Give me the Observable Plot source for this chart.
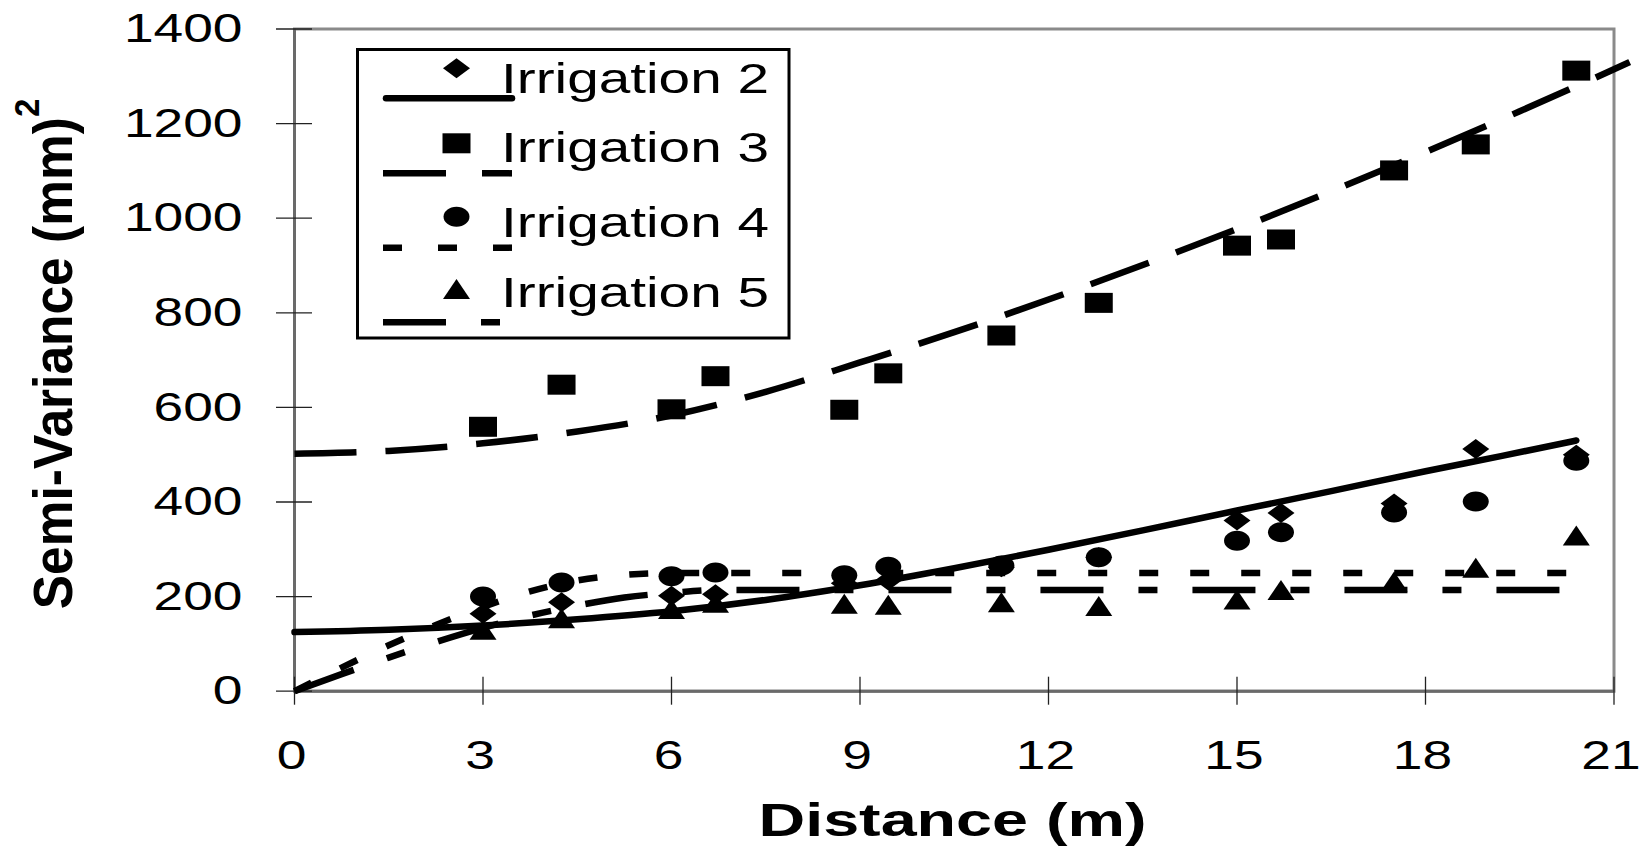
<!DOCTYPE html>
<html>
<head>
<meta charset="utf-8">
<script src="https://cdn.jsdelivr.net/npm/d3@7"></script>
<script src="https://cdn.jsdelivr.net/npm/@observablehq/plot@0.6"></script>
<style>
  html, body { margin: 0; padding: 0; background: #fff; overflow: hidden; }
  #chart svg { display: block; }
</style>
</head>
<body>
<div id="chart"></div>
<script>
// ---------- data ----------
const distances = [3, 4.25, 6, 6.7, 8.75, 9.45, 11.25, 12.8, 15, 15.7, 17.5, 18.8, 20.4];
const irr2 = [164, 188, 202, 205, 228, 234, 262, 283, 361, 377, 397, 512, 500];
const irr3 = [559, 648, 596, 666, 595, 672, 752, 821, 942, 955, 1101, 1156, 1312];
const irr4 = [200, 230, 243, 251, 245, 263, 266, 283, 318, 336, 378, 401, 487];
const irr5 = [130, 154, 174, 187, 185, 183, 188, 180, 194, 214, 232, 261, 329];

// fitted model curves
const fitX2 = [0, 1.5, 3, 4.5, 6, 7.5, 9, 10.5, 12, 13.5, 15, 16.5, 18, 19.2, 20.4];
const fitY2 = [125, 130, 139, 152, 169, 193, 224, 260, 299, 340, 382, 423, 465, 497, 530];
const fitX3 = [0, 1.5, 3, 4.5, 6, 7.5, 9, 10.5, 12, 13.5, 15, 16.5, 18, 19.5, 20.4, 21.25];
const fitY3 = [502, 508, 524, 549, 583, 633, 695, 759, 828, 901, 977, 1057, 1140, 1226, 1279, 1330];
const fitX4 = [0, 0.75, 1.5, 2.25, 3, 3.75, 4.5, 5.25, 6, 20.4];
const fitY4 = [0, 50, 97, 140, 178, 211, 234, 246, 250, 250];
const fitX5 = [0, 0.75, 1.5, 2.25, 3, 3.75, 4.5, 5.25, 6, 6.75, 20.4];
const fitY5 = [0, 36, 71, 104, 134, 160, 181, 198, 208, 214, 214];

const xTicks = [0, 3, 6, 9, 12, 15, 18, 21];
const yTicks = [0, 200, 400, 600, 800, 1000, 1200, 1400];
const seriesNames = ["Irrigation 2", "Irrigation 3", "Irrigation 4", "Irrigation 5"];
const xTitle = "Distance (m)";
const yTitle = "Semi-Variance (mm)";
const yTitleSup = "2";

// ---------- helpers ----------
const FONT = "'Liberation Sans', Arial, Helvetica, sans-serif";
const pts = (xs, ys) => xs.map((x, i) => ({x, y: ys[i]}));

// stretched (wide) marker shapes, as in the reference
function sym(kind, ratio) {
  return {
    draw(ctx, size) {
      const h = Math.sqrt(size / Math.PI), w = h * ratio;
      if (kind === "rect") {
        ctx.moveTo(-w, -h); ctx.lineTo(w, -h); ctx.lineTo(w, h); ctx.lineTo(-w, h); ctx.closePath();
      } else if (kind === "diamond") {
        ctx.moveTo(0, -h); ctx.lineTo(w, 0); ctx.lineTo(0, h); ctx.lineTo(-w, 0); ctx.closePath();
      } else if (kind === "triangle") {
        ctx.moveTo(0, -h); ctx.lineTo(w, h); ctx.lineTo(-w, h); ctx.closePath();
      } else {
        const k = 0.5523;
        ctx.moveTo(w, 0);
        ctx.bezierCurveTo(w, k * h, k * w, h, 0, h);
        ctx.bezierCurveTo(-k * w, h, -w, k * h, -w, 0);
        ctx.bezierCurveTo(-w, -k * h, -k * w, -h, 0, -h);
        ctx.bezierCurveTo(k * w, -h, w, -k * h, w, 0);
        ctx.closePath();
      }
    }
  };
}
const diamondSym = sym("diamond", 1.35);
const squareSym = sym("rect", 1.4);
const circleSym = sym("ellipse", 1.3);
const triangleSym = sym("triangle", 1.35);
const R = 10;
const LW = 6.5;

const dash3 = "62,29", dash4 = "19,32", dash5 = "63,35,19,35";

const plot = Plot.plot({
  width: 1643,
  height: 851,
  marginLeft: 294,
  marginRight: 29.5,
  marginTop: 28.5,
  marginBottom: 160.3,
  style: {fontFamily: FONT, fontSize: "41px", color: "black", background: "white", overflow: "visible"},
  x: {domain: [0, 21]},
  y: {domain: [0, 1400]},
  marks: [
    Plot.frame({stroke: "#8a8a8a", strokeWidth: 3}),
    Plot.ruleX([0], {stroke: "#6a6a6a", strokeWidth: 3}),
    Plot.ruleY([0], {stroke: "#6a6a6a", strokeWidth: 3}),
    Plot.axisY(yTicks, {tickSize: 36, dx: 18, fill: "none", label: null, stroke: "#222", strokeWidth: 1.3}),
    Plot.axisX(xTicks, {tickSize: 28, dy: -14, fill: "none", label: null, stroke: "#222", strokeWidth: 1.3}),
    Plot.axisY(yTicks, {tickSize: 0, tickPadding: 52, label: null, fontSize: 41, tickFormat: d => String(d)}),
    Plot.axisX(xTicks, {tickSize: 0, tickPadding: 49, label: null, fontSize: 41, dx: -3, tickFormat: d => String(d)}),

    Plot.dot(pts(distances, irr2), {x: "x", y: "y", symbol: diamondSym, r: R, fill: "black", stroke: "none"}),
    Plot.dot(pts(distances, irr3), {x: "x", y: "y", symbol: squareSym, r: R, fill: "black", stroke: "none"}),
    Plot.dot(pts(distances, irr4), {x: "x", y: "y", symbol: circleSym, r: R, fill: "black", stroke: "none"}),
    Plot.dot(pts(distances, irr5), {x: "x", y: "y", symbol: triangleSym, r: R, fill: "black", stroke: "none"}),

    Plot.line(pts(fitX2, fitY2), {x: "x", y: "y", stroke: "black", strokeWidth: LW, curve: "monotone-x", strokeLinecap: "round"}),
    Plot.line(pts(fitX3, fitY3), {x: "x", y: "y", stroke: "black", strokeWidth: LW, curve: "monotone-x", strokeLinecap: "butt", strokeDasharray: dash3}),
    Plot.line(pts(fitX4, fitY4), {x: "x", y: "y", stroke: "black", strokeWidth: LW, curve: "monotone-x", strokeLinecap: "butt", strokeDasharray: dash4}),
    Plot.line(pts(fitX5, fitY5), {x: "x", y: "y", stroke: "black", strokeWidth: LW, curve: "monotone-x", strokeLinecap: "butt", strokeDasharray: dash5})
  ]
});

document.getElementById("chart").append(plot);
const svg = d3.select(plot);

// stretch glyphs horizontally like the reference
function stretch(nodes, f) {
  nodes.forEach(el => {
    const L = el.getComputedTextLength();
    el.setAttribute("textLength", (L * f).toFixed(1));
    el.setAttribute("lengthAdjust", "spacingAndGlyphs");
  });
}
stretch(plot.querySelectorAll('g[aria-label$="tick label"] text'), 1.3);

// ---------- axis titles ----------
svg.append("text")
  .attr("x", 952.5).attr("y", 836)
  .attr("text-anchor", "middle")
  .attr("font-family", FONT).attr("font-weight", "bold").attr("font-size", 47)
  .attr("fill", "black")
  .attr("textLength", 388).attr("lengthAdjust", "spacingAndGlyphs")
  .text(xTitle);

const yt = svg.append("text")
  .attr("transform", "translate(72,354) rotate(-90) scale(1,1.08)")
  .attr("text-anchor", "middle")
  .attr("font-family", FONT).attr("font-weight", "bold").attr("font-size", 51.5)
  .attr("fill", "black");
yt.append("tspan").text(yTitle);
yt.append("tspan").attr("font-size", 33).attr("dy", -31).text(yTitleSup);

// ---------- legend ----------
const lg = svg.append("g").attr("text-anchor", "start");
lg.append("rect")
  .attr("x", 357.5).attr("y", 49.5).attr("width", 431.5).attr("height", 288.5)
  .attr("fill", "white").attr("stroke", "black").attr("stroke-width", 3);
const legendSyms = [diamondSym, squareSym, circleSym, triangleSym];
const legendDash = [null, "63,36", "19,36", "63,35,19,35"];
const textBase = [92.7, 161.7, 236.7, 306.7];
const symY = [68.3, 143.3, 216.7, 289];
const lineY = [98.3, 173.3, 247.7, 322.3];
seriesNames.forEach((name, i) => {
  lg.append("line")
    .attr("x1", i === 0 ? 386 : 383).attr("x2", 512)
    .attr("y1", lineY[i]).attr("y2", lineY[i])
    .attr("stroke", "black").attr("stroke-width", LW)
    .attr("stroke-linecap", i === 0 ? "round" : "butt")
    .attr("stroke-dasharray", legendDash[i]);
  lg.append("path")
    .attr("transform", `translate(456.5,${symY[i]})`)
    .attr("d", d3.symbol().type(legendSyms[i]).size(Math.PI * R * R)())
    .attr("fill", "black");
  lg.append("text")
    .attr("x", 501).attr("y", textBase[i])
    .attr("text-anchor", "start")
    .attr("font-family", FONT).attr("font-size", 42).attr("fill", "black")
    .attr("textLength", 268).attr("lengthAdjust", "spacingAndGlyphs")
    .text(name);
});
</script>
</body>
</html>
